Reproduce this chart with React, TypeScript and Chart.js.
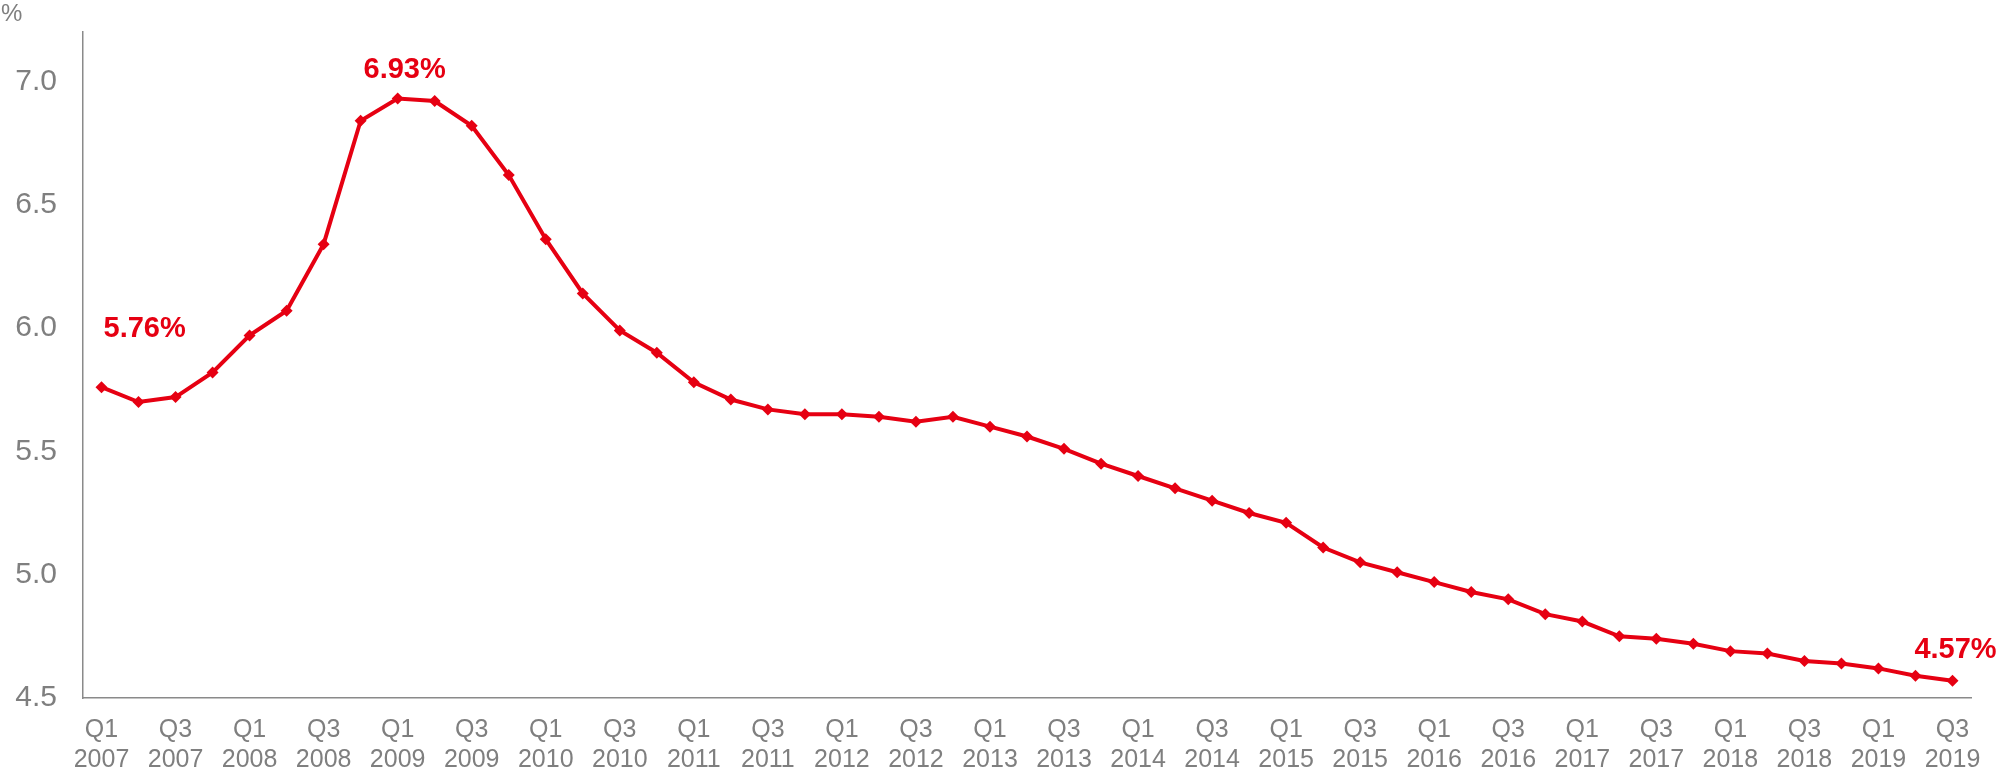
import React, { useEffect, useRef } from "react";
import { Chart, registerables } from "chart.js";

Chart.register(...registerables);

// Quarterly series, Q1 2007 – Q3 2019
const years = [2007, 2008, 2009, 2010, 2011, 2012, 2013, 2014, 2015, 2016, 2017, 2018, 2019];
const quarters = ["Q1", "Q2", "Q3", "Q4"];

const categories: string[][] = [];
for (const y of years) {
  for (const q of quarters) {
    if (y === 2019 && q === "Q4") continue;
    categories.push([q, String(y)]);
  }
}

const rateValues = [
  5.76, 5.70, 5.72, 5.82, 5.97, 6.07, 6.34, 6.84, 6.93, 6.92, 6.82, 6.62, 6.36,
  6.14, 5.99, 5.90, 5.78, 5.71, 5.67, 5.65, 5.65, 5.64, 5.62, 5.64, 5.60,
  5.56, 5.51, 5.45, 5.40, 5.35, 5.30, 5.25, 5.21, 5.11, 5.05, 5.01, 4.97,
  4.93, 4.90, 4.84, 4.81, 4.75, 4.74, 4.72, 4.69, 4.68, 4.65, 4.64, 4.62,
  4.59, 4.57,
];

const yTicks = [4.5, 5.0, 5.5, 6.0, 6.5, 7.0];

// Annotated points: index, text alignment, offset from the marker
const callouts = [
  { index: 0, align: "left" as CanvasTextAlign, dx: 2, dy: -58 },
  { index: 8, align: "center" as CanvasTextAlign, dx: 7, dy: -29 },
  { index: 50, align: "center" as CanvasTextAlign, dx: 3, dy: -31 },
];

const RED = "#e60012";
const GREY = "#7f7f7f";
const FONT = "'Liberation Sans', Arial, sans-serif";

const calloutPlugin = {
  id: "callouts",
  afterDatasetsDraw(chart: any) {
    const { ctx } = chart;
    const meta = chart.getDatasetMeta(0);
    ctx.save();
    ctx.fillStyle = RED;
    ctx.font = `bold 29px ${FONT}`;
    ctx.textBaseline = "middle";
    for (const c of callouts) {
      const el = meta.data[c.index];
      if (!el) continue;
      ctx.textAlign = c.align;
      ctx.fillText(`${rateValues[c.index].toFixed(2)}%`, el.x + c.dx, el.y + c.dy);
    }
    // unit marker above the value axis
    ctx.fillStyle = GREY;
    ctx.font = `24px ${FONT}`;
    ctx.textAlign = "left";
    ctx.fillText("%", 1, 14);
    ctx.restore();
  },
};

export default function App() {
  const canvasRef = useRef<HTMLCanvasElement | null>(null);

  useEffect(() => {
    if (!canvasRef.current) return;
    const chart = new Chart(canvasRef.current, {
      type: "line",
      data: {
        labels: categories,
        datasets: [
          {
            data: rateValues,
            borderColor: RED,
            backgroundColor: RED,
            borderWidth: 4,
            pointStyle: "rectRot",
            pointRadius: 6,
            pointBorderWidth: 0,
            pointBackgroundColor: RED,
            tension: 0,
          },
        ],
      },
      options: {
        animation: false,
        responsive: true,
        maintainAspectRatio: false,
        layout: { padding: { top: 32, right: 31, left: 0, bottom: 0 } },
        plugins: {
          legend: { display: false },
          tooltip: { enabled: false },
        },
        scales: {
          x: {
            offset: true,
            grid: { display: false, drawTicks: false },
            border: { display: true, color: "#8a8a8a", width: 1.5 },
            ticks: {
              autoSkip: false,
              maxRotation: 0,
              minRotation: 0,
              padding: 17,
              color: GREY,
              font: { family: FONT, size: 25, lineHeight: 1.2 },
              callback: (_v: any, i: number) => (i % 2 === 0 ? categories[i] : ""),
            },
            afterFit: (s: any) => {
              s.height = 75;
              s.paddingLeft = 0;
              s.paddingRight = 0;
            },
          },
          y: {
            min: 4.5,
            max: 7.2,
            grid: { display: false, drawTicks: false },
            border: { display: true, color: "#8a8a8a", width: 1.5 },
            afterBuildTicks: (s: any) => {
              s.ticks = yTicks.map((v) => ({ value: v }));
            },
            ticks: {
              padding: 26,
              color: GREY,
              font: { family: FONT, size: 30 },
              callback: (v: any) => Number(v).toFixed(1),
            },
            afterFit: (s: any) => {
              s.width = 83;
              s.paddingTop = 0;
              s.paddingBottom = 0;
            },
          },
        },
      },
      plugins: [calloutPlugin],
    });
    return () => chart.destroy();
  }, []);

  return (
    <div style={{ position: "absolute", left: 0, top: 0, width: 2002, height: 773, background: "#fff" }}>
      <canvas ref={canvasRef} />
    </div>
  );
}
